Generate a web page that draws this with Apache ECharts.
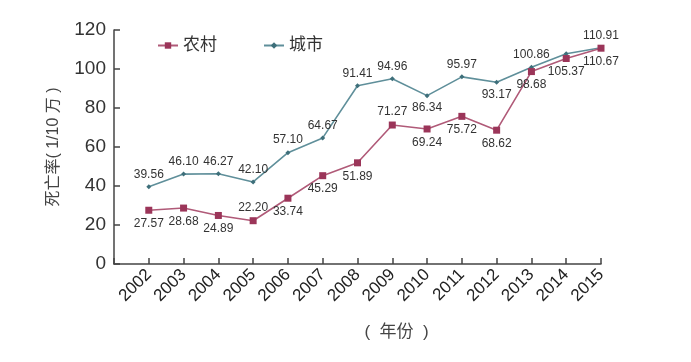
<!DOCTYPE html>
<html><head><meta charset="utf-8">
<script src="https://cdn.jsdelivr.net/npm/echarts@6/dist/echarts.min.js"></script>
<style>html,body{margin:0;padding:0;background:#fff}#c{width:691px;height:362px}</style>
</head><body><div id="c"></div>
<script>
const years = [2002,2003,2004,2005,2006,2007,2008,2009,2010,2011,2012,2013,2014,2015];
const rural = [27.57,28.68,24.89,22.20,33.74,45.29,51.89,71.27,69.24,75.72,68.62,98.68,105.37,110.67];
const urban = [39.56,46.10,46.27,42.10,57.10,64.67,91.41,94.96,86.34,95.97,93.17,100.86,107.8,110.91];
const urbanLabelShown = [1,1,1,1,1,1,1,1,1,1,1,1,0,1];
const yTicks = [0,20,40,60,80,100,120];

const ruralPos = ['bottom','bottom','bottom','top','bottom','bottom','bottom','top','bottom','bottom','bottom','bottom','bottom','bottom'];
const urbanPos = ['top','top','top','top','top','top','top','top','bottom','top','bottom','top','top','top'];
const font = '"Liberation Sans", "Noto Sans CJK SC", sans-serif';

const chart = echarts.init(document.getElementById('c'));
chart.setOption({
  animation:false,
  textStyle:{fontFamily:font},
  grid:{left:114,right:90,top:30,bottom:98,containLabel:false},
  legend:{
    left:152, top:32, itemGap:46, itemWidth:20, itemHeight:8,
    textStyle:{fontSize:17,color:'#333',fontFamily:font},
    data:['农村','城市']
  },
  xAxis:{
    type:'value', min:years[0]-1, max:years[years.length-1], interval:1,
    name:'(  年份  )', nameLocation:'middle', nameGap:60,
    nameTextStyle:{fontSize:17,color:'#444',fontFamily:font,padding:[0,0,0,78]},
    axisLine:{lineStyle:{color:'#444',width:1.5}},
    axisTick:{inside:true,length:6,lineStyle:{color:'#444',width:1.5}},
    splitLine:{show:false},
    axisLabel:{rotate:45,fontSize:17,color:'#222',margin:8,
      formatter:v=> years.indexOf(v)>=0 ? String(v) : ''}
  },
  yAxis:{
    type:'value', min:yTicks[0], max:yTicks[yTicks.length-1], interval:20,
    name:'死亡率( 1/10 万 )', nameLocation:'middle', nameGap:52, nameRotate:90,
    nameTextStyle:{fontSize:16,color:'#444',fontFamily:font},
    axisLine:{show:true,lineStyle:{color:'#444',width:1.5}},
    axisTick:{show:true,inside:true,length:6,lineStyle:{color:'#444',width:1.5}},
    splitLine:{show:false},
    axisLabel:{fontSize:19,color:'#333',margin:8}
  },
  series:[
    {
      name:'农村', type:'line',
      data: years.map((y,i)=>({value:[y,rural[i]],label:{position:ruralPos[i]}})),
      symbol:'rect', symbolSize:7,
      lineStyle:{color:'#b05a78',width:1.6},
      itemStyle:{color:'#9b3559'},
      label:{show:true,fontSize:12,color:'#333',distance:4,formatter:p=>p.value[1].toFixed(2)},
      z:3
    },
    {
      name:'城市', type:'line',
      data: years.map((y,i)=>({value:[y,urban[i]],label:{show:!!urbanLabelShown[i],position:urbanPos[i]}})),
      symbol:'diamond', symbolSize:5,
      lineStyle:{color:'#5f8f9a',width:1.6},
      itemStyle:{color:'#3e6f7a'},
      label:{show:true,fontSize:12,color:'#333',distance:4,formatter:p=>p.value[1].toFixed(2)},
      z:2
    }
  ]
});
</script></body></html>
